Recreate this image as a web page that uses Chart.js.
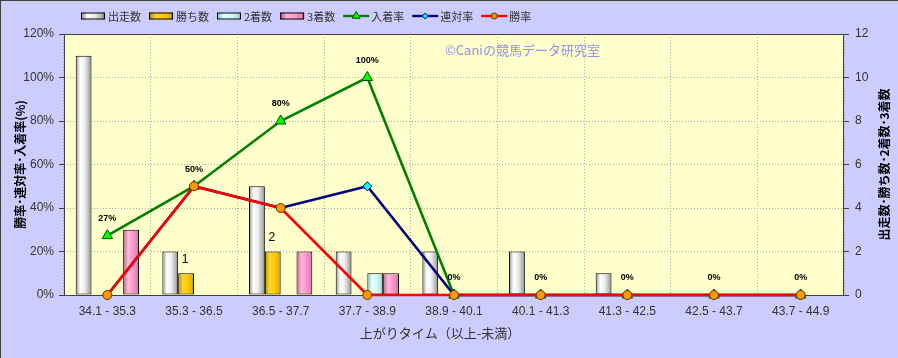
<!DOCTYPE html>
<html><head><meta charset="utf-8">
<script src="https://cdn.jsdelivr.net/npm/chart.js@4/dist/chart.umd.min.js"></script>
<style>html,body{margin:0;padding:0;background:#ccccff;overflow:hidden;}#wrap{width:898px;height:358px;}</style>
</head><body><div id="wrap"><canvas id="c" width="898" height="358"></canvas></div>
<script>
const categories = ['34.1 - 35.3','35.3 - 36.5','36.5 - 37.7','37.7 - 38.9','38.9 - 40.1','40.1 - 41.3','41.3 - 42.5','42.5 - 43.7','43.7 - 44.9'];
const starts  = [11, 2, 5, 2, 2, 2, 1, 0, 0];
const wins    = [0, 1, 2, 0, 0, 0, 0, 0, 0];
const seconds = [0, 0, 0, 1, 0, 0, 0, 0, 0];
const thirds  = [3, 0, 2, 1, 0, 0, 0, 0, 0];
const placeRate    = [27.3, 50, 80, 100, 0, 0, 0, 0, 0];
const quinellaRate = [0, 50, 40, 50, 0, 0, 0, 0, 0];
const winRate      = [0, 50, 40, 0, 0, 0, 0, 0, 0];
const leftTitle  = '勝率･連対率･入着率(%)';
const rightTitle = '出走数･勝ち数･2着数･3着数';
const xTitle     = '上がりタイム（以上-未満）';
const watermark  = '©Caniの競馬データ研究室';

const JP = '"Noto Sans CJK JP", sans-serif';
const NUM = '"Liberation Sans", Arial, sans-serif';

const barStyles = [
  {stops:[[0,'#8c8c8c'],[0.28,'#ffffff'],[0.55,'#f0f0f0'],[0.85,'#b4b4b4'],[1,'#6e6e6e']], flat:'#e6e6e6'},
  {stops:[[0,'#b08a00'],[0.3,'#ffd633'],[0.6,'#ffcc00'],[0.88,'#e0b000'],[1,'#9a7600']], flat:'#ffcc00'},
  {stops:[[0,'#8fb8b8'],[0.3,'#e8ffff'],[0.6,'#ccffff'],[0.88,'#b0dede'],[1,'#7fa5a5']], flat:'#ccffff'},
  {stops:[[0,'#b0607f'],[0.3,'#ffb8dc'],[0.6,'#ff99cc'],[0.88,'#e083b0'],[1,'#a05a7a']], flat:'#ff99cc'}
];
function grad(ctx, x0, x1, stops){
  const g = ctx.createLinearGradient(x0,0,x1,0);
  stops.forEach(s=>g.addColorStop(s[0],s[1]));
  return g;
}
const nz = a => a.map(v => v === 0 ? null : v);

function barDs(label, data, k){
  return {type:'bar', label, data:nz(data), yAxisID:'y1', order:10,
    backgroundColor: () => barStyles[k].flat, styleIdx:k,
    borderColor:'#000', borderWidth:1, borderSkipped:false,
    categoryPercentage:0.73, barPercentage:1.0};
}

const datasets = [
  barDs('出走数', starts, 0),
  barDs('勝ち数', wins, 1),
  barDs('2着数', seconds, 2),
  barDs('3着数', thirds, 3),
  {type:'line', label:'入着率', data:placeRate, yAxisID:'y', order:3,
   borderColor:'#008000', borderWidth:2.6, tension:0, fill:false, clip:false,
   pointStyle:'triangle', pointRadius:6, pointBackgroundColor:'#00ff00', pointBorderColor:'#004d00', pointBorderWidth:1},
  {type:'line', label:'連対率', data:quinellaRate, yAxisID:'y', order:2,
   borderColor:'#000080', borderWidth:2.6, tension:0, fill:false, clip:false,
   pointStyle:'rectRot', pointRadius:4.5, pointBackgroundColor:'#00ffff', pointBorderColor:'#000080', pointBorderWidth:1},
  {type:'line', label:'勝率', data:winRate, yAxisID:'y', order:1,
   borderColor:'#ff0000', borderWidth:2.6, tension:0, fill:false, clip:false,
   pointStyle:'circle', pointRadius:4.5, pointBackgroundColor:'#ff9900', pointBorderColor:'#663300', pointBorderWidth:1}
];

const decor = {
  id:'decor',
  beforeDraw(chart){
    const c = chart.ctx, a = chart.chartArea;
    c.save();
    c.fillStyle = '#ccccff'; c.fillRect(0,0,chart.width,chart.height);
    c.fillStyle = '#ffffcc'; c.fillRect(a.left,a.top,a.right-a.left,a.bottom-a.top);
    c.fillStyle = '#404040'; c.fillRect(0,0,chart.width,1); c.fillRect(0,0,1,chart.height);
    c.restore();
  },
  beforeDatasetsDraw(chart){
    const c = chart.ctx, a = chart.chartArea;
    c.save();
    c.strokeStyle = '#404040'; c.lineWidth = 1;
    c.strokeRect(a.left+0.5, a.top+0.5, a.right-a.left-1, a.bottom-a.top);
    c.font = '13px ' + JP; c.fillStyle = '#8f8ff0'; c.textBaseline = 'middle'; c.textAlign = 'left';
    c.fillText(watermark, 445, 50);
    c.restore();
    chart.data.datasets.forEach((ds,i)=>{
      if (ds.type !== 'bar') return;
      const meta = chart.getDatasetMeta(i);
      meta.data.forEach(el=>{
        if (!el || el.options == null || Object.isFrozen(el.options)) return;
        const w = el.width;
        el.options.backgroundColor = grad(c, el.x - w/2, el.x + w/2, barStyles[ds.styleIdx].stops);
      });
    });
  },
  afterDatasetsDraw(chart){
    const c = chart.ctx;
    c.save();
    c.fillStyle = '#000'; c.textAlign = 'center'; c.textBaseline = 'middle';
    const pm = chart.getDatasetMeta(4);
    c.font = 'bold 9px ' + NUM;
    pm.data.forEach((el,i)=>{ c.fillText(Math.round(placeRate[i]) + '%', el.x, el.y - 17); });
    const wm = chart.getDatasetMeta(1);
    c.font = '12px ' + NUM;
    wm.data.forEach((el,i)=>{ if (wins[i]) c.fillText(String(wins[i]), el.x - 1, el.y - 14); });
    c.restore();
  },
  afterDraw(chart){
    const c = chart.ctx, a = chart.chartArea;
    c.save();
    c.fillStyle = '#000'; c.textAlign = 'center'; c.textBaseline = 'middle';
    c.font = 'bold 12px ' + JP;
    c.save(); c.translate(20, (a.top + a.bottom)/2); c.rotate(-Math.PI/2); c.fillText(leftTitle, 0, 0); c.restore();
    c.save(); c.translate(884, (a.top + a.bottom)/2); c.rotate(-Math.PI/2); c.fillText(rightTitle, 0, 0); c.restore();
    c.fillStyle = '#333'; c.font = '13px ' + JP;
    c.fillText(xTitle, 440, 333);
    let x = 81; const y = 16;
    c.font = '11px ' + JP; c.textAlign = 'left';
    chart.data.datasets.forEach(ds=>{
      if (ds.type === 'bar') {
        const w = 24, h = 7;
        c.fillStyle = grad(c, x, x + w, barStyles[ds.styleIdx].stops);
        c.fillRect(x, y - h/2, w, h);
        c.strokeStyle = '#000'; c.lineWidth = 1; c.strokeRect(x + 0.5, y - h/2 + 0.5, w - 1, h - 1);
        x += w + 3;
      } else {
        const w = 26;
        c.strokeStyle = ds.borderColor; c.lineWidth = 2.4;
        c.beginPath(); c.moveTo(x, y); c.lineTo(x + w, y); c.stroke();
        c.fillStyle = ds.pointBackgroundColor; c.strokeStyle = ds.pointBorderColor;
        c.lineWidth = 1;
        c.beginPath();
        Chart.helpers.drawPoint(c, {pointStyle: ds.pointStyle, radius: ds.pointRadius - 1.5, borderWidth: 1, rotation: 0}, x + w/2, y);
        x += w + 2;
      }
      c.fillStyle = '#333';
      c.fillText(ds.label, x, y + 1);
      x += c.measureText(ds.label).width + 8;
    });
    c.restore();
  }
};

new Chart(document.getElementById('c'), {
  data: {labels: categories, datasets},
  options: {
    responsive:false, animation:false, devicePixelRatio:1,
    layout:{padding:{top:34,left:0,right:0,bottom:0}},
    plugins:{legend:{display:false}, tooltip:{enabled:false}},
    scales:{
      x:{type:'category', offset:true,
        grid:{offset:true, color:'#ababab', drawTicks:false},
        border:{display:false, dash:[1,2]},
        ticks:{padding:9, color:'#333', font:{family:NUM, size:12}, maxRotation:0, autoSkip:false},
        afterFit(s){ s.height = 63; }},
      y:{position:'left', min:0, max:120,
        grid:{color:'#ababab', tickLength:5, tickColor:'#404040', tickBorderDash:[]},
        border:{display:false, dash:[1,2]},
        ticks:{stepSize:20, padding:5, color:'#333', font:{family:NUM, size:12}, callback:v=>v+'%'},
        afterFit(s){ s.width = 64; }},
      y1:{position:'right', min:0, max:12,
        grid:{drawOnChartArea:false, tickLength:5, tickColor:'#404040', tickBorderDash:[]},
        border:{display:false},
        ticks:{stepSize:2, padding:6, color:'#333', font:{family:NUM, size:12}},
        afterFit(s){ s.width = 54; }}
    }
  },
  plugins:[decor]
});
</script></body></html>
